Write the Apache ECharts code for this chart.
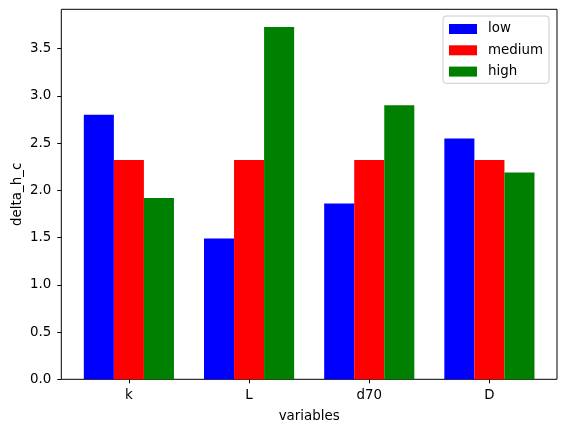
<!DOCTYPE html>
<html>
<head>
<meta charset="utf-8">
<script src="https://cdn.jsdelivr.net/npm/echarts@6/dist/echarts.min.js"></script>
<style>
html,body{margin:0;padding:0;background:#fff;}
#chart{width:567px;height:432px;}
</style>
</head>
<body>
<div id="chart"></div>
<script>
const categories = ['k', 'L', 'd70', 'D'];
const lowValues = [2.80, 1.49, 1.86, 2.55];
const mediumValues = [2.32, 2.32, 2.32, 2.32];
const highValues = [1.92, 3.73, 2.90, 2.19];
const yTicks = [0, 0.5, 1.0, 1.5, 2.0, 2.5, 3.0, 3.5];
const seriesNames = ['low', 'medium', 'high'];

const yMax = 3.73 * 1.05;
const font = 'DejaVu Sans';
const fs = 13.4;

const chart = echarts.init(document.getElementById('chart'), null, {renderer: 'canvas'});
chart.setOption({
  backgroundColor: '#fff',
  animation: false,
  textStyle: {fontFamily: font},
  grid: [
    {left: 61.3, right: 10, top: 9.3, bottom: 52.7, show: true, borderColor: '#000', borderWidth: 1, containLabel: false},
    {left: 68.8, right: 17.5, top: 9.3, bottom: 52.7, containLabel: false}
  ],
  legend: {
    orient: 'vertical',
    left: 443, top: 16,
    padding: [6, 6, 4.7, 6],
    itemWidth: 28, itemHeight: 10, itemGap: 7.3,
    icon: 'rect',
    borderColor: '#cccccc', borderWidth: 1, borderRadius: 3,
    backgroundColor: 'rgba(255,255,255,0.8)',
    textStyle: {fontFamily: font, fontSize: fs, color: '#000', lineHeight: 14, padding: [0,0,0,6]},
    data: seriesNames
  },
  xAxis: [
    {gridIndex: 0, type: 'value', min: 0, max: 1, show: false},
    {
      gridIndex: 1, type: 'category', data: categories,
      axisLine: {show: false},
      axisTick: {show: true, alignWithLabel: true, length: 4, lineStyle: {color: '#000', width: 1}},
      axisLabel: {color: '#000', fontSize: fs, fontFamily: font, margin: 10},
      name: 'variables', nameLocation: 'middle', nameGap: 31, nameMoveOverlap: false,
      nameTextStyle: {color: '#000', fontSize: fs, fontFamily: font},
      splitLine: {show: false}
    }
  ],
  yAxis: [
    {
      gridIndex: 0, type: 'value', min: 0, max: yMax, interval: 0.5,
      axisLine: {show: false},
      axisTick: {show: true, length: 4, lineStyle: {color: '#000', width: 1}, customValues: yTicks},
      axisLabel: {color: '#000', fontSize: fs, fontFamily: font, margin: 10, customValues: yTicks,
        formatter: v => v.toFixed(1)},
      splitLine: {show: false},
      name: 'delta_h_c', nameLocation: 'middle', nameGap: 37, nameRotate: 90, nameMoveOverlap: false,
      nameTextStyle: {color: '#000', fontSize: fs, fontFamily: font}
    },
    {gridIndex: 1, type: 'value', min: 0, max: yMax, show: false}
  ],
  series: [
    {name: 'low', type: 'bar', xAxisIndex: 1, yAxisIndex: 1, data: lowValues, itemStyle: {color: '#0000ff'}, barGap: '0%', barCategoryGap: '25%'},
    {name: 'medium', type: 'bar', xAxisIndex: 1, yAxisIndex: 1, data: mediumValues, itemStyle: {color: '#ff0000'}, barGap: '0%', barCategoryGap: '25%'},
    {name: 'high', type: 'bar', xAxisIndex: 1, yAxisIndex: 1, data: highValues, itemStyle: {color: '#008000'}, barGap: '0%', barCategoryGap: '25%'}
  ]
});
</script>
</body>
</html>
